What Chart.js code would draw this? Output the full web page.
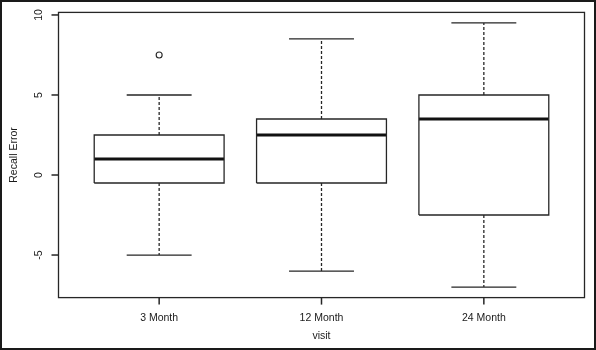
<!DOCTYPE html>
<html>
<head>
<meta charset="utf-8">
<script src="https://cdn.jsdelivr.net/npm/chart.js@4/dist/chart.umd.min.js"></script>
<style>
  html, body { margin: 0; padding: 0; background: #fff; }
  #wrap { width: 596px; height: 350px; position: relative; }
</style>
</head>
<body>
<div id="wrap"><canvas id="c" width="596" height="350"></canvas></div>
<script>
// ---- data ----
const categories = ['3 Month', '12 Month', '24 Month'];
const whiskerLow = [-5, -6, -7];
const q1 = [-0.5, -0.5, -2.5];
const median = [1, 2.5, 3.5];
const q3 = [2.5, 3.5, 5];
const whiskerHigh = [5, 8.5, 9.5];
const outliers = [[7.5], [], []];
const yTicks = [-5, 0, 5, 10];

// ---- build datasets ----
const boxHalf = 0.4, capHalf = 0.2;
const boxPts = [], medPts = [], whiskPts = [], capPts = [], outPts = [];
const gap = {x: NaN, y: null};
categories.forEach((c, k) => {
  const i = k + 1;
  boxPts.push({x: i - boxHalf, y: q1[k]}, {x: i + boxHalf, y: q1[k]}, {x: i + boxHalf, y: q3[k]},
              {x: i - boxHalf, y: q3[k]}, {x: i - boxHalf, y: q1[k]}, gap);
  medPts.push({x: i - boxHalf, y: median[k]}, {x: i + boxHalf, y: median[k]}, gap);
  whiskPts.push({x: i, y: q3[k]}, {x: i, y: whiskerHigh[k]}, gap, {x: i, y: q1[k]}, {x: i, y: whiskerLow[k]}, gap);
  capPts.push({x: i - capHalf, y: whiskerHigh[k]}, {x: i + capHalf, y: whiskerHigh[k]}, gap,
              {x: i - capHalf, y: whiskerLow[k]}, {x: i + capHalf, y: whiskerLow[k]}, gap);
  outliers[k].forEach(v => outPts.push({x: i, y: v}));
});

const lineCol = '#262626';
const lineDs = (data, extra) => Object.assign({
  data, showLine: true, spanGaps: false, pointRadius: 0, borderColor: lineCol,
  borderWidth: 1.3, tension: 0, fill: false
}, extra);

const yMin = -7.66, yMax = 10.16;
const xMin = 0.38, xMax = 3.62;
const FONT = 'Liberation Sans, Arial, sans-serif';

const framePlugin = {
  id: 'frame',
  afterDraw(chart) {
    const ctx = chart.ctx;
    const a = chart.chartArea;
    const xs = chart.scales.x, ys = chart.scales.y;
    ctx.save();
    ctx.setLineDash([]);
    ctx.strokeStyle = lineCol;
    ctx.lineWidth = 1.3;
    ctx.strokeRect(a.left, a.top, a.right - a.left, a.bottom - a.top);
    ctx.lineWidth = 1.5;
    for (let k = 0; k < categories.length; k++) {
      const px = xs.getPixelForValue(k + 1);
      ctx.beginPath();
      ctx.moveTo(px, a.bottom);
      ctx.lineTo(px, a.bottom + 7);
      ctx.stroke();
    }
    for (const v of yTicks) {
      const py = ys.getPixelForValue(v);
      ctx.beginPath();
      ctx.moveTo(a.left, py);
      ctx.lineTo(a.left - 7, py);
      ctx.stroke();
    }
    ctx.strokeStyle = '#1a1a1a';
    ctx.lineWidth = 2;
    ctx.strokeRect(1, 1, chart.width - 2, chart.height - 2);
    ctx.restore();
  }
};

function zeroPad(s) { s.paddingTop = 0; s.paddingBottom = 0; s.paddingLeft = 0; s.paddingRight = 0; }

new Chart(document.getElementById('c'), {
  type: 'scatter',
  data: {
    datasets: [
      lineDs(whiskPts, {borderDash: [3, 2]}),
      lineDs(capPts),
      lineDs(boxPts),
      lineDs(medPts, {borderWidth: 3, borderColor: '#111'}),
      {data: outPts, pointRadius: 3, pointBackgroundColor: '#fff', pointBorderColor: lineCol, pointBorderWidth: 1.1, showLine: false}
    ]
  },
  options: {
    responsive: false,
    animation: false,
    events: [],
    layout: {padding: {left: 3, right: 11.5, top: 12.4, bottom: 3}},
    plugins: {legend: {display: false}, tooltip: {enabled: false}},
    scales: {
      x: {
        type: 'linear', min: xMin, max: xMax,
        afterBuildTicks: s => { s.ticks = categories.map((c, k) => ({value: k + 1})); },
        afterFit: s => { s.height = 350 - 3 - 297.6; zeroPad(s); },
        ticks: {callback: v => categories[v - 1], color: '#1a1a1a', font: {family: FONT, size: 10.5}, padding: 14, maxRotation: 0, autoSkip: false},
        grid: {display: false, drawTicks: false},
        border: {display: false},
        title: {display: true, text: 'visit', color: '#1a1a1a', font: {family: FONT, size: 10.5}, padding: {top: 0, bottom: 5}}
      },
      y: {
        type: 'linear', min: yMin, max: yMax,
        afterBuildTicks: s => { s.ticks = yTicks.map(v => ({value: v})); },
        afterFit: s => { s.width = 58.5 - 3; zeroPad(s); },
        ticks: {color: '#1a1a1a', font: {family: FONT, size: 10.5}, padding: 13.5, minRotation: 90, maxRotation: 90, crossAlign: 'center', autoSkip: false},
        grid: {display: false, drawTicks: false},
        border: {display: false},
        title: {display: true, text: 'Recall Error', color: '#1a1a1a', font: {family: FONT, size: 10.5}, padding: {top: 4.5, bottom: 0}}
      }
    }
  },
  plugins: [framePlugin]
});
</script>
</body>
</html>
